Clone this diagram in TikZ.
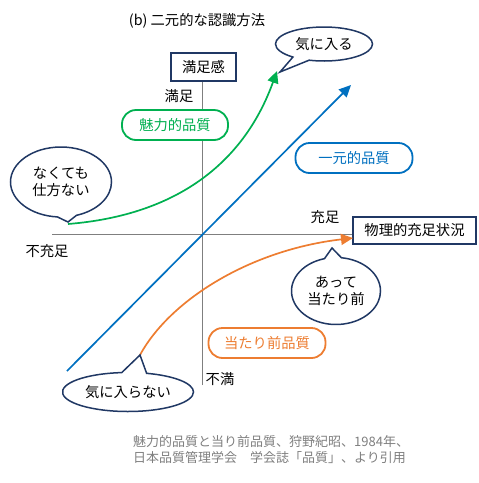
\documentclass[tikz,border=0pt]{standalone}
\usepackage{fontspec}
\setmainfont{Noto Sans CJK JP}
\usetikzlibrary{arrows.meta,shapes.callouts,positioning}
\definecolor{navy}{HTML}{203864}
\definecolor{kgreen}{HTML}{00B050}
\definecolor{kblue}{HTML}{0070C0}
\definecolor{korange}{HTML}{ED7D31}
\definecolor{axisgray}{HTML}{7F7F7F}
\tikzset{
  txt/.style={font=\fontsize{14.3}{17}\selectfont, inner sep=0pt},
  axisbox/.style={txt, draw=navy, line width=1.8pt, fill=white, inner sep=0pt},
  axisline/.style={draw=axisgray, line width=0.9pt},
  curve/.style={line width=1.7pt, -{Triangle[length=12pt,width=11pt]}},
  tag/.style={txt, rounded corners=14pt, line width=1.8pt, fill=white,
    minimum width=117pt, minimum height=30pt},
  bubble/.style={txt, ellipse callout, draw=navy, line width=1.5pt, fill=white,
    align=center, callout pointer arc=22},
  note/.style={txt, text=axisgray, align=left, font=\fontsize{13}{16}\selectfont}
}

\begin{document}
\begin{tikzpicture}[x=1pt, y=-1pt, >=stealth]
\useasboundingbox (0,0) rectangle (479,483);

% title
\node[txt] (title) at (197,21) {(b) 二元的な認識方法};

% axes
\node[axisbox, minimum width=65pt, minimum height=28pt] (sat) at (203.5,67) {満足感};
\node[axisbox, minimum width=123pt, minimum height=27pt] (phys) at (414.5,230.5) {物理的充足状況};
\coordinate (vbot) at (202,385);
\coordinate (hleft) at (52,234);
\draw[axisline] (vbot) -- (vbot |- sat.south);
\draw[axisline] (hleft) -- (hleft -| phys.west);

% axis labels
\node[txt] (manzoku) at (179,96) {満足};
\node[txt] (fuman) at (220,379) {不満};
\node[txt] (juusoku) at (325,217) {充足};
\node[txt] (fujuusoku) at (47,251) {不充足};

% curves
\coordinate (gs) at (68,224);
\coordinate (ge) at (277,71);
\coordinate (bs) at (67,371);
\coordinate (be) at (351,85);
\coordinate (os) at (140,355);
\coordinate (oe) at (353,238);
\draw[curve, kgreen] (gs) .. controls (180,215) and (245,160) .. (ge);
\draw[curve, kblue] (bs) -- (be);
\draw[curve, korange] (os) .. controls (170,300) and (250,250) .. (oe);

% quality tags
\node[tag, draw=kgreen, text=kgreen, minimum width=106pt] (miryoku) at (175,125) {魅力的品質};
\node[tag, draw=kblue, text=kblue] (ichigen) at (354,158) {一元的品質};
\node[tag, draw=korange, text=korange] (atarimae) at (267,343) {当たり前品質};

% speech bubbles
\node[bubble, minimum width=97pt, minimum height=34pt, callout absolute pointer={(280,72)}]
  (kiniiru) at (324,44) {気に入る};
\node[bubble, minimum width=101pt, minimum height=70pt, callout absolute pointer={(68,222)}]
  (nakutemo) at (61,182) {なくても\\仕方ない};
\node[bubble, minimum width=89pt, minimum height=67pt, callout absolute pointer={(332,248)}]
  (atte) at (336,291) {あって\\当たり前};
\node[bubble, minimum width=131pt, minimum height=39pt, callout absolute pointer={(140,355)}]
  (kiniiranai) at (128,392) {気に入らない};

% source
\node[note, anchor=west] (src) at (133,450) {魅力的品質と当り前品質、狩野紀昭、1984年、\\日本品質管理学会　学会誌「品質」、より引用};

\end{tikzpicture}
\end{document}
